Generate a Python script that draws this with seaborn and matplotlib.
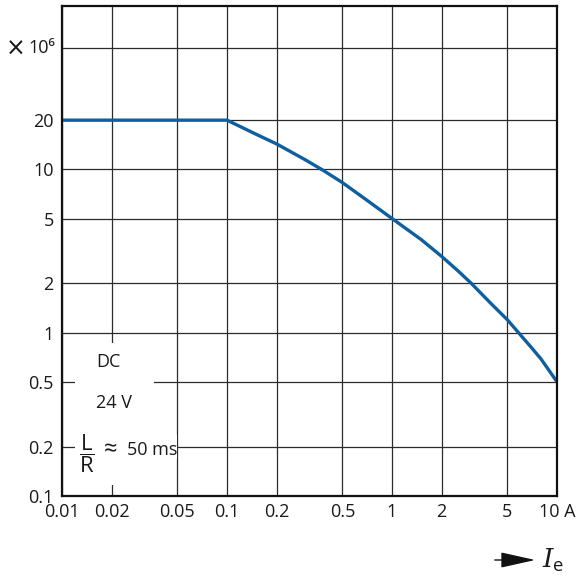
import matplotlib
matplotlib.use("Agg")
import matplotlib.pyplot as plt
import matplotlib.transforms as mtransforms
import seaborn as sns
import pandas as pd
from matplotlib.patches import Rectangle, FancyArrowPatch

# ---- data ----
current_a = [0.01, 0.1, 0.15, 0.2, 0.3, 0.38, 0.5, 0.7, 1.0, 1.5, 2.0, 2.5, 3.0, 4.0,
             5.0, 6.0, 7.0, 8.0, 10.0]
ops_million = [20, 20, 16.4, 14.3, 11.4, 9.9, 8.3, 6.5, 5.0, 3.72, 2.93, 2.4, 2.02, 1.5,
               1.2, 0.97, 0.81, 0.69, 0.5]

x_ticks = [0.01, 0.02, 0.05, 0.1, 0.2, 0.5, 1, 2, 5, 10]
x_tick_labels = ["0.01", "0.02", "0.05", "0.1", "0.2", "0.5", "1", "2", "5", "10 A"]
y_ticks = [0.1, 0.2, 0.5, 1, 2, 5, 10, 20, 55]
y_tick_labels = ["0.1", "0.2", "0.5", "1", "2", "5", "10", "20", ""]
unit_tick = 55
unit_sign = "×"
unit_power = "10⁶"

df = pd.DataFrame({"Ie": current_a, "ops": ops_million})

sns.set_style("white")
plt.rcParams["font.family"] = ["Open Sans", "DejaVu Sans"]
plt.rcParams["mathtext.fontset"] = "custom"
plt.rcParams["mathtext.rm"] = "Open Sans"
plt.rcParams["mathtext.it"] = "DejaVu Serif:italic"

fig = plt.figure(figsize=(5.8, 5.8), dpi=100)
ax = fig.add_axes([62 / 580, 1 - 496 / 580, 495 / 580, 490 / 580])
ax.set_xscale("log")
ax.set_yscale("log")
ax.set_xlim(0.01, 10)
ax.set_ylim(0.1, 100)

sns.lineplot(data=df, x="Ie", y="ops", ax=ax, color="#0d5fa0", linewidth=2.4,
             sort=False, zorder=5)

ax.set_xticks(x_ticks)
ax.set_xticklabels(x_tick_labels)
ax.set_yticks(y_ticks)
ax.set_yticklabels(y_tick_labels)
ax.minorticks_off()
ax.tick_params(axis="both", length=0, labelsize=13, colors="#1a1a1a")
ax.tick_params(axis="y", pad=6)
ax.tick_params(axis="x", pad=5)
ax.set_xlabel("")
ax.set_ylabel("")

ax.grid(True, which="major", color="#2b2b2b", linewidth=0.9)
ax.set_axisbelow(True)
for s in ax.spines.values():
    s.set_visible(True)
    s.set_color("#111111")
    s.set_linewidth(1.6)
    s.set_zorder(6)

tc = "#1a1a1a"
# unit label at the top of the y axis
trans = mtransforms.blended_transform_factory(ax.transAxes, ax.transData)
ax.text(-0.014, unit_tick, unit_power, transform=trans, fontsize=13, ha="right",
        va="center", color=tc, clip_on=False)
ax.text(-0.073, unit_tick, unit_sign, transform=trans, fontsize=17, ha="right",
        va="center", color=tc, family=["DejaVu Sans"], clip_on=False)

# white background behind annotation texts (interrupts grid)
ax.add_patch(Rectangle((0.026, 0.022), 0.16, 0.29, transform=ax.transAxes,
                       facecolor="white", edgecolor="none", zorder=2))
ax.add_patch(Rectangle((0.032, 0.075), 0.2, 0.05, transform=ax.transAxes,
                       facecolor="white", edgecolor="none", zorder=2))

ax.text(0.0161, 0.66, "DC", fontsize=13, va="center", ha="left", color=tc, zorder=7)
ax.text(0.0161, 0.37, "24 V", fontsize=13, va="center", ha="left", color=tc, zorder=7)
ax.text(0.0142, 0.183, r"$\dfrac{\mathrm{L}}{\mathrm{R}}$", fontsize=16, va="center",
        ha="center", color=tc, zorder=7)
ax.text(0.0197, 0.19, "≈", fontsize=17, va="center", ha="center", color=tc, zorder=7)
ax.text(0.0247, 0.19, "50 ms", fontsize=13, va="center", ha="left", color=tc, zorder=7)

# axis direction arrow and symbol
fig.patches.append(FancyArrowPatch(
    (492 / 580, 1 - 560 / 580), (538 / 580, 1 - 560 / 580),
    transform=fig.transFigure, arrowstyle="-|>,head_length=1.8,head_width=0.4",
    mutation_scale=12, color="#111111", linewidth=1.0))
fig.text(542 / 580, 1 - 560 / 580, r"$I_{\mathrm{e}}$", fontsize=19, va="center",
         ha="left", color=tc)

fig.savefig("out.png", dpi=100, facecolor="white")
